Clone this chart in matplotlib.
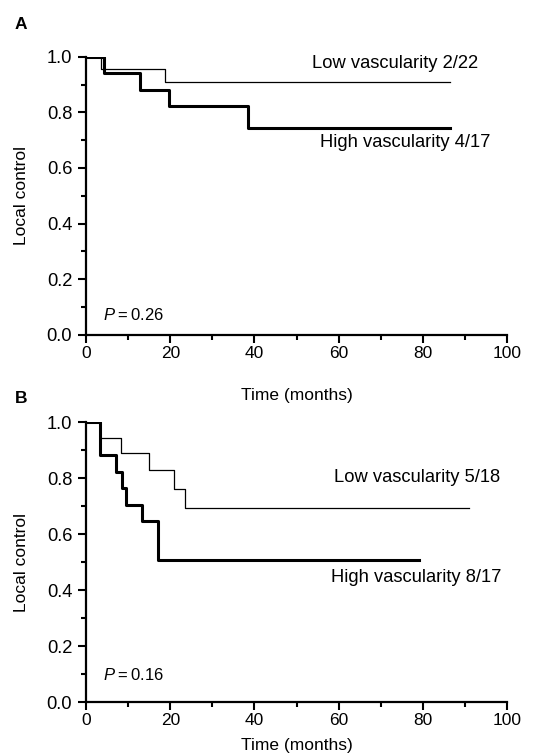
import matplotlib
matplotlib.use("Agg")
import matplotlib.pyplot as plt
from matplotlib.ticker import MultipleLocator

plt.rcParams["font.family"] = ["Liberation Sans", "DejaVu Sans"]
plt.rcParams["font.size"] = 12.5
plt.rcParams["mathtext.fontset"] = "custom"
plt.rcParams["mathtext.it"] = "Liberation Sans:italic"
plt.rcParams["mathtext.rm"] = "Liberation Sans"

# Panel A - step curves (time in months, local control)
a_low_t = [0, 3.5, 18.8, 86.5]
a_low_s = [1.0, 0.955, 0.909, 0.909]
a_high_t = [0, 4.2, 12.9, 19.8, 38.4, 86.5]
a_high_s = [1.0, 0.941, 0.882, 0.824, 0.745, 0.745]

# Panel B
b_low_t = [0, 3.4, 8.3, 15.0, 21.0, 23.6, 91.0]
b_low_s = [1.0, 0.944, 0.889, 0.831, 0.762, 0.694, 0.694]
b_high_t = [0, 3.3, 7.2, 8.6, 9.5, 13.3, 17.1, 79.0]
b_high_s = [1.0, 0.882, 0.824, 0.765, 0.706, 0.647, 0.509, 0.509]

panels = [
    dict(tag="A", low=(a_low_t, a_low_s), high=(a_high_t, a_high_s),
         low_txt="Low vascularity 2/22", high_txt="High vascularity 4/17",
         low_pos=(53.6, 0.975), high_pos=(55.5, 0.691), p="0.26", p_y=0.072,
         rect=[0.154, 0.557, 0.753, 0.368], xlab_y=-0.19, tag_y=1.115),
    dict(tag="B", low=(b_low_t, b_low_s), high=(b_high_t, b_high_s),
         low_txt="Low vascularity 5/18", high_txt="High vascularity 8/17",
         low_pos=(59.0, 0.804), high_pos=(58.3, 0.446), p="0.16", p_y=0.096,
         rect=[0.154, 0.0714, 0.753, 0.370], xlab_y=-0.128, tag_y=1.086),
]

fig = plt.figure(figsize=(5.59, 7.56), dpi=100)

for pan in panels:
    ax = fig.add_axes(pan["rect"])
    t, s = pan["low"]
    ax.step(t, s, where="post", color="black", lw=0.9)
    t, s = pan["high"]
    ax.step(t, s, where="post", color="black", lw=2.2)

    ax.set_xlim(0, 100)
    ax.set_ylim(0, 1.0)
    ax.xaxis.set_major_locator(MultipleLocator(20))
    ax.xaxis.set_minor_locator(MultipleLocator(10))
    ax.yaxis.set_major_locator(MultipleLocator(0.2))
    ax.yaxis.set_minor_locator(MultipleLocator(0.1))
    ax.yaxis.set_major_formatter(lambda v, pos: f"{v:.1f}")
    ax.tick_params(which="major", direction="out", length=6, width=1.5, pad=2)
    ax.tick_params(axis="y", which="major", pad=4, labelsize=13.2)
    ax.tick_params(which="minor", direction="out", length=3.5, width=1.5)
    for side in ("top", "right"):
        ax.spines[side].set_visible(False)
    for side in ("left", "bottom"):
        ax.spines[side].set_linewidth(1.6)

    ax.set_ylabel("Local control")
    ax.yaxis.set_label_coords(-0.135, 0.5)
    ax.set_xlabel("Time (months)")
    ax.xaxis.set_label_coords(0.5, pan["xlab_y"])

    ax.text(*pan["low_pos"], pan["low_txt"], va="center", ha="left", fontsize=13.2)
    ax.text(*pan["high_pos"], pan["high_txt"], va="center", ha="left", fontsize=13.2)
    ax.text(4.0, pan["p_y"], "$P$\u2009=\u2009" + pan["p"], va="center", ha="left",
            fontsize=12)

    ax.text(-0.17, pan["tag_y"], pan["tag"], transform=ax.transAxes,
            fontweight="bold", va="center", ha="left", fontsize=12.5)

fig.savefig("out.png", dpi=100)
